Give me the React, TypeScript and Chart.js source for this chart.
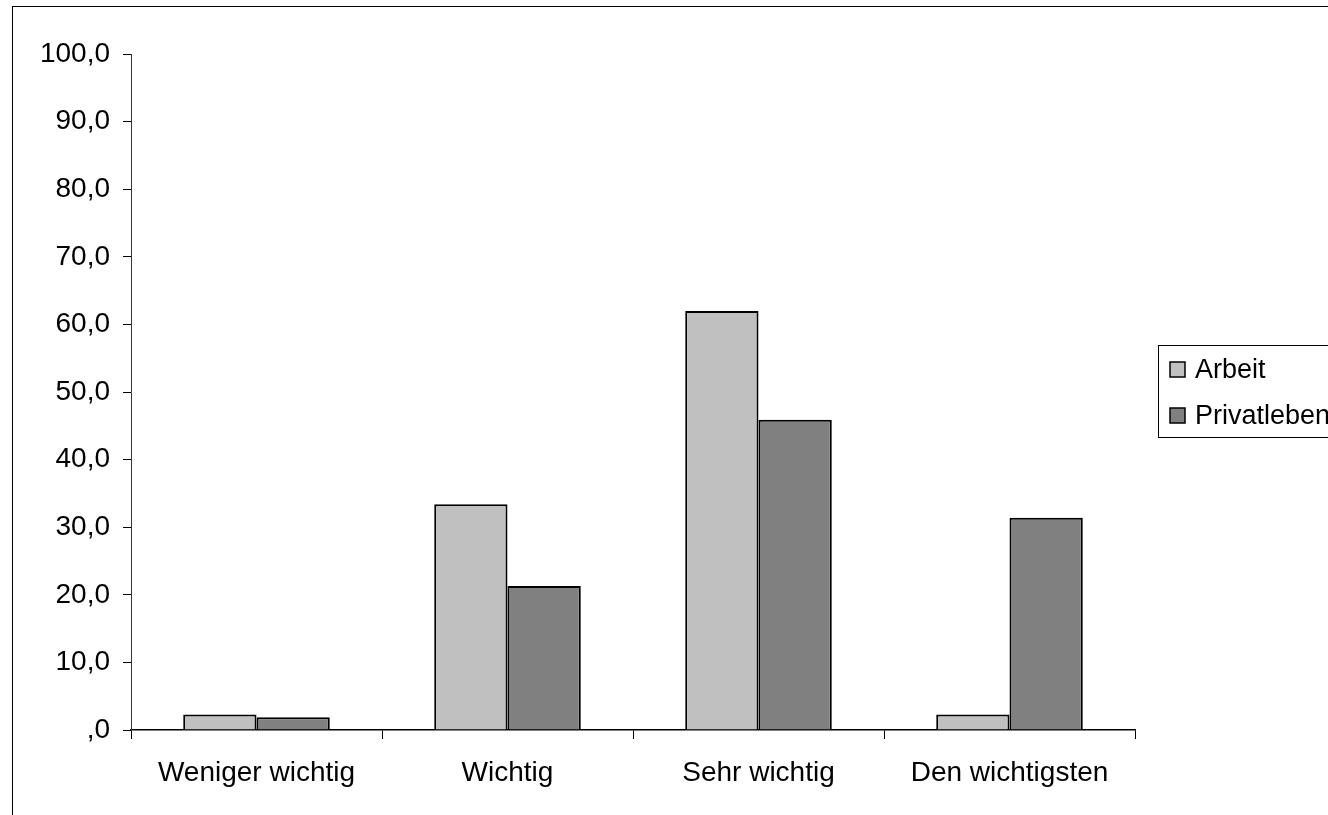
import React, { useEffect, useRef } from "react";
import { Chart, registerables } from "chart.js";

Chart.register(...registerables);

const categories = ["Weniger wichtig", "Wichtig", "Sehr wichtig", "Den wichtigsten"];
const arbeitValues = [2.3, 33.4, 62.0, 2.3];
const privatlebenValues = [1.9, 21.3, 45.9, 31.4];
const seriesLabels = ["Arbeit", "Privatleben"];
const seriesColors = ["#C0C0C0", "#808080"];
const yTickLabels = [",0", "10,0", "20,0", "30,0", "40,0", "50,0", "60,0", "70,0", "80,0", "90,0", "100,0"];

const FONT = "'Liberation Sans', Arial, sans-serif";

const boxLegend = {
  id: "boxLegend",
  afterDraw(chart: any) {
    const ctx = chart.ctx;
    const left = 1158.5;
    const top = 345.5;
    ctx.save();
    ctx.strokeStyle = "#000";
    ctx.lineWidth = 1;
    ctx.strokeRect(left, top, 400, 92);
    ctx.font = `27px ${FONT}`;
    ctx.textBaseline = "middle";
    ctx.textAlign = "left";
    chart.data.datasets.forEach((ds: any, i: number) => {
      const cy = 370 + i * 46;
      ctx.fillStyle = ds.backgroundColor;
      ctx.fillRect(1170, cy - 8, 15, 15);
      ctx.lineWidth = 1.5;
      ctx.strokeStyle = "#000";
      ctx.strokeRect(1170, cy - 8, 15, 15);
      ctx.fillStyle = "#000";
      ctx.fillText(ds.label, 1195, cy + 1);
    });
    ctx.restore();
  },
};

export default function App() {
  const ref = useRef<HTMLCanvasElement | null>(null);
  useEffect(() => {
    if (!ref.current) return;
    const chart = new Chart(ref.current, {
      type: "bar",
      data: {
        labels: categories,
        datasets: [
          {
            label: seriesLabels[0],
            data: arbeitValues,
            backgroundColor: seriesColors[0],
            borderColor: "#000",
            borderWidth: 2,
          },
          {
            label: seriesLabels[1],
            data: privatlebenValues,
            backgroundColor: seriesColors[1],
            borderColor: "#000",
            borderWidth: 2,
          },
        ],
      },
      options: {
        animation: false,
        responsive: false,
        maintainAspectRatio: false,
        devicePixelRatio: 1,
        layout: { padding: { left: 0, top: 54, right: 193, bottom: 0 } },
        datasets: { bar: { categoryPercentage: 0.584, barPercentage: 1 } },
        plugins: {
          legend: { display: false },
          tooltip: { enabled: false },
        },
        scales: {
          x: {
            offset: true,
            grid: {
              display: true,
              offset: true,
              drawOnChartArea: false,
              drawTicks: true,
              tickLength: 9,
              color: "#000",
              lineWidth: 1,
            },
            border: { display: true, color: "#000", width: 1.5 },
            ticks: {
              color: "#000",
              font: { family: FONT, size: 28 },
              padding: 17,
              maxRotation: 0,
              autoSkip: false,
            },
            afterFit: (scale: any) => {
              scale.height = 815 - 730;
            },
          },
          y: {
            min: 0,
            max: 100,
            grid: {
              display: true,
              drawOnChartArea: false,
              drawTicks: true,
              tickLength: 8,
              color: "#000",
              lineWidth: 1,
            },
            border: { display: true, color: "#333", width: 1 },
            ticks: {
              stepSize: 10,
              color: "#000",
              font: { family: FONT, size: 28 },
              padding: 13,
              callback: (_v: any, i: number) => yTickLabels[i],
            },
            afterFit: (scale: any) => {
              scale.width = 131;
            },
          },
        },
      },
      plugins: [boxLegend],
    });
    return () => chart.destroy();
  }, []);

  return (
    <div
      style={{
        position: "fixed",
        left: 0,
        top: 0,
        width: 1328,
        height: 815,
        overflow: "hidden",
        background: "#fff",
      }}
    >
      <div
        style={{
          position: "absolute",
          left: 12,
          top: 6,
          width: 1400,
          height: 900,
          border: "1px solid #000",
        }}
      />
      <canvas
        ref={ref}
        width={1328}
        height={815}
        style={{ position: "absolute", left: 0, top: 0, width: 1328, height: 815 }}
      />
    </div>
  );
}
